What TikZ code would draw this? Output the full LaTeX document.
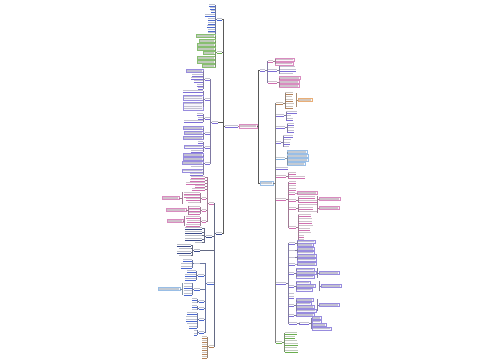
\documentclass[tikz,border=0pt]{standalone}
\usetikzlibrary{calc}
\definecolor{cblue}{HTML}{4A68D0}
\definecolor{cnavy}{HTML}{3A4A8A}
\definecolor{cgreen}{HTML}{6AAE4E}
\definecolor{cpurple}{HTML}{7E6FD6}
\definecolor{cpink}{HTML}{D06FB0}
\definecolor{cbrown}{HTML}{B5835A}
\definecolor{corange}{HTML}{E49A55}
\definecolor{clblue}{HTML}{7FAEE0}
\tikzset{
  tx/.style={inner sep=0pt, minimum height=2.6pt, path picture={
     \fill[#1!45!gray!80!black, opacity=.38] ([yshift=-0.4pt]path picture bounding box.north west) rectangle ([yshift=1.0pt]path picture bounding box.south east);
     \draw[#1, line width=0.6pt] (path picture bounding box.south west) -- (path picture bounding box.south east);}},
  bx/.style={inner sep=0pt, minimum height=3.2pt, draw=#1!80, line width=0.25pt, fill=#1!7, path picture={
     \fill[#1!40!gray!80!black, opacity=.35] ([xshift=0.8pt,yshift=-1.05pt]path picture bounding box.north west) rectangle ([xshift=-0.8pt,yshift=1.05pt]path picture bounding box.south east);}},
  bxm/.style n args={2}{inner sep=0pt, draw=#1!80, line width=0.25pt, fill=#1!7, path picture={
     \foreach \kk in {1,...,#2}{\fill[#1!40!gray!80!black, opacity=.35] ($(path picture bounding box.north west)!{(\kk-0.5)/#2}!(path picture bounding box.south west)+(0.8pt,0.5pt)$) rectangle ($(path picture bounding box.north east)!{(\kk-0.5)/#2}!(path picture bounding box.south east)+(-0.8pt,-0.5pt)$);}}},
  ln/.style={draw=#1!40!gray, line width=0.4pt},
  trunk/.style={draw=gray!70!black, line width=0.6pt}
}
% name, x, y, style, width
\newcommand\nodL[5]{\node[#4, minimum width=#5pt, anchor=east] (#1) at (#2,#3) {};}
\newcommand\nodR[5]{\node[#4, minimum width=#5pt, anchor=west] (#1) at (#2,#3) {};}
% parent, prefix, x, style, list y/w, colour
\newcommand\grpL[6]{\foreach \yy/\ww [count=\ii] in {#5}{%
  \node[#4, minimum width=\ww pt, anchor=east] (#2-\ii) at (#3,\yy) {};
  \draw[ln=#6] (#1.west) -- ++(-1.5,0) |- (#2-\ii.east);}}
\newcommand\grpR[6]{\foreach \yy/\ww [count=\ii] in {#5}{%
  \node[#4, minimum width=\ww pt, anchor=west] (#2-\ii) at (#3,\yy) {};
  \draw[ln=#6] (#1.east) -- ++(1.5,0) |- (#2-\ii.west);}}
\newcommand\conL[3]{\foreach \nd in {#2} \draw[ln=#3] (#1.west) -- ++(-1.5,0) |- (\nd.east);}
\newcommand\conR[3]{\foreach \nd in {#2} \draw[ln=#3] (#1.east) -- ++(1.5,0) |- (\nd.west);}
\newcommand\sumL[4]{\draw[ln=#4] (#1.east) -- ++(#2,0) ++(0,-#3) -- ++(0,{2*#3});}
\newcommand\sumR[4]{\draw[ln=#4] (#1.west) -- ++(-#2,0) ++(0,-#3) -- ++(0,{2*#3});}
\begin{document}
\begin{tikzpicture}[x=1pt,y=-1pt]
\useasboundingbox (0,0) rectangle (500,360);
\fill[white] (0,0) rectangle (500,360);

% root
\node[tx=cpurple, minimum width=13pt, anchor=west] (root) at (225,126) {};
\node[bx=cpink, minimum width=18pt, minimum height=3.6pt, anchor=west] (rbox) at (239,126) {};
\draw[ln=cpink] (root.east) -- (rbox.west);

% ---------- left side ----------
\nodL{LA}{222}{19}{tx=cblue}{5}
\nodL{LB}{222}{52}{tx=cgreen}{5}
\nodL{LC}{218}{122}{tx=cpurple}{6}
\nodL{LD}{222}{233}{tx=cnavy}{6}
\foreach \nd in {LA,LB,LC,LD} \draw[trunk] (root.west) -- ++(-1.5,0) |- (\nd.east);

\grpL{LA}{LAt}{215}{tx=cblue}{5/6,8/5,11/4,15/10,19/7,23/7,26/8,30/7,33/7}{cblue}
\grpL{LB}{LBb}{215}{bx=cgreen}{36/19,41/16,45/18,49/18,53/12,58/18,62/18,66/13}{cgreen}

\nodL{C1}{210}{79}{tx=cpurple}{5}
\nodL{C2}{210}{99}{tx=cpurple}{5}
\nodL{C3}{210}{118}{tx=cpurple}{5}
\nodL{C4}{210}{133}{tx=cpurple}{5}
\nodL{C5}{210}{147}{tx=cpurple}{5}
\nodL{C6}{210}{163}{tx=cpurple}{5}
\conL{LC}{C1,C2,C3,C4,C5,C6}{cpurple}
\grpL{C1}{C1b}{203}{bx=cpurple}{71/17}{cpurple}
\grpL{C1}{C1t}{203}{tx=cpurple}{75/11,78/12,81/9,85/6,88/5}{cpurple}
\grpL{C2}{C2t}{203}{tx=cpurple}{91/20}{cpurple}
\node[bxm={cpurple}{2}, minimum width=20pt, minimum height=5.6pt, anchor=east] (C2m1) at (203,97.5) {};
\node[bxm={cpurple}{3}, minimum width=20pt, minimum height=8.4pt, anchor=east] (C2m2) at (203,106) {};
\conL{C2}{C2m1,C2m2}{cpurple}
\grpL{C3}{C3t}{203}{tx=cpurple}{114/6,118/5,121/19}{cpurple}
\grpL{C4}{C4b}{203}{bx=cpurple}{128/20,133/19,138/20}{cpurple}
\grpL{C5}{C5t}{203}{tx=cpurple}{142/5,151/12}{cpurple}
\grpL{C5}{C5b}{203}{bx=cpurple}{146.5/19}{cpurple}
\grpL{C6}{C6b}{203}{bx=cpurple}{155/20,159/20,163/21,170.5/21}{cpurple}
\grpL{C6}{C6t}{203}{tx=cpurple}{166.5/12,174/13}{cpurple}

\nodL{D1}{214}{203}{tx=cpink}{5}
\nodL{D2}{212}{236}{tx=cnavy}{6}
\nodL{D3}{200}{250}{tx=cnavy}{6}
\nodL{D4}{214}{283}{tx=cblue}{7}
\nodL{D5}{214}{346}{tx=cbrown}{5}
\conL{LD}{D1,D2,D3,D4,D5}{cnavy}

\grpL{D1}{D1t}{205}{tx=cpink}{177/14,180/15,183/19,186/10,189/13}{cpink}
\nodL{D1b}{206}{198}{tx=cpink}{4}
\nodL{D1c}{206}{210}{tx=cpink}{4}
\nodL{D1d}{206}{221}{tx=cpink}{4}
\conL{D1}{D1b,D1c,D1d}{cpink}
\grpL{D1b}{D1bt}{200}{tx=cpink}{193/16,196/16,199/14,202.5/12}{cpink}
\node[bx=cpink, minimum width=17pt, anchor=east] (s1) at (179,198) {};
\sumL{s1}{3.5}{6}{cpink}
\grpL{D1c}{D1ct}{200}{tx=cpink}{207/11,210/11,213/11}{cpink}
\node[bx=cpink, minimum width=20pt, anchor=east] (s2) at (186,210) {};
\sumL{s2}{2}{4.5}{cpink}
\grpL{D1d}{D1dt}{200}{tx=cpink}{217/14,221/13,225/14}{cpink}
\node[bx=cpink, minimum width=16pt, anchor=east] (s3) at (183,221) {};
\sumL{s3}{1.5}{5}{cpink}

\grpL{D2}{D2t}{202}{tx=cnavy}{228/17,232/17,235.5/17,239/17,242.5/7}{cnavy}
\grpL{D3}{D3t}{191}{tx=cnavy}{245/14,248.5/12,252/14,255.5/12}{cnavy}

\nodL{D4a}{200}{263.5}{tx=cblue}{6}
\nodL{D4b}{204}{275}{tx=cblue}{6}
\nodL{D4c}{200}{289}{tx=cblue}{6}
\nodL{D4d}{204}{301}{tx=cblue}{5}
\nodL{D4e}{204}{308}{tx=cblue}{5}
\nodL{D4f}{204}{319}{tx=cblue}{5}
\nodL{D4g}{204}{332}{tx=cblue}{5}
\conL{D4}{D4a,D4b,D4c,D4d,D4e,D4f,D4g}{cblue}
\grpL{D4a}{D4at}{192}{tx=cblue}{260/9,263.5/11,267/11}{cblue}
\grpL{D4b}{D4bt}{196}{tx=cblue}{271/9,275/11,279/11}{cblue}
\grpL{D4c}{D4ct}{192}{tx=cblue}{283.5/8,287/8,290.5/8,294/8}{cblue}
\node[bx=clblue, minimum width=22pt, anchor=east] (s4) at (180,289) {};
\sumL{s4}{2.5}{6}{clblue}
\grpL{D4d}{D4dt}{197}{tx=cblue}{299/5,302.5/5}{cblue}
\grpL{D4e}{D4et}{197}{tx=cblue}{306/5,309.5/5}{cblue}
\grpL{D4f}{D4ft}{197}{tx=cblue}{313/10,316.5/11,320/11,323.5/10,327/8}{cblue}
\grpL{D4g}{D4gt}{197}{tx=cblue}{330.5/3,334/3}{cblue}
\grpL{D5}{D5t}{207}{tx=cbrown}{337/5,341/5,345/5,349/5,353/5,357/5}{cbrown}

% ---------- right side ----------
\node[tx=cpurple, minimum width=5pt, anchor=west] (RA) at (260,70) {};
\node[bx=clblue, minimum width=13pt, minimum height=3.6pt, anchor=west] (RB) at (260,183) {};
\foreach \nd in {RA,RB} \draw[trunk] (rbox.east) -- ++(1.5,0) |- (\nd.west);

\nodR{A1}{268}{61}{tx=cpink}{5}
\nodR{A2}{268}{70}{tx=cpurple}{9}
\nodR{A3}{268}{82}{tx=cpink}{9}
\conR{RA}{A1,A2,A3}{cpurple}
\grpR{A1}{A1b}{275}{bx=cpink}{59.5/19,63.5/18}{cpink}
\grpR{A2}{A2t}{279}{tx=cpurple}{66.5/16,70/17,73.5/14}{cpurple}
\grpR{A3}{A3b}{279}{bx=cpink}{78/21,82/20,86/20}{cpink}

\nodR{B1}{276}{103}{tx=cbrown}{7}
\nodR{B2}{276}{115}{tx=cpurple}{8}
\nodR{B3}{276}{127}{tx=cpurple}{9}
\nodR{B4}{276}{142}{tx=cpurple}{5}
\nodR{B5}{276}{158}{tx=clblue}{9}
\nodR{B6}{276}{168}{tx=cpurple}{12}
\nodR{B7}{276}{176}{tx=cpink}{10}
\nodR{B8}{276}{199}{tx=cpink}{10}
\nodR{B9}{276}{283}{tx=cpurple}{10}
\nodR{B10}{276}{342}{tx=cgreen}{6}
\conR{RB}{B1,B2,B3,B4,B5,B6,B7,B8,B9,B10}{gray}

\grpR{B1}{B1t}{285}{tx=cbrown}{93/8,96.5/7,100/8,103.5/9,107/8}{cbrown}
\node[bx=corange, minimum width=14pt, anchor=west] (s5) at (298,100) {};
\sumR{s5}{2}{7}{corange}
\grpR{B2}{B2t}{286}{tx=cpurple}{112/11,115.5/5,119/7}{cpurple}
\grpR{B3}{B3t}{287}{tx=cpurple}{124/7,127.5/7,131/7}{cpurple}
\grpR{B4}{B4t}{283}{tx=cpurple}{136/10,139.5/8,143/7,146.5/6}{cpurple}
\grpR{B5}{B5b}{287}{bx=clblue}{152/20,156/21,160/21,164/18}{clblue}
\grpR{B7}{B7t}{288}{tx=cpink}{173/8,177/17}{cpink}

\grpR{B8}{B8t}{289}{tx=cpink}{182/7,185.5/7,189/7}{cpink}
\nodR{B8a}{289}{193}{tx=cpink}{6}
\nodR{B8b}{289}{200}{tx=cpink}{7}
\nodR{B8c}{289}{208}{tx=cpink}{7}
\nodR{B8d}{289}{227}{tx=cpink}{7}
\conR{B8}{B8a,B8b,B8c,B8d}{cpink}
\grpR{B8a}{B8at}{297}{bx=cpink}{193/20}{cpink}
\grpR{B8b}{B8bt}{298}{tx=cpink}{197/17,201/19}{cpink}
\node[bx=cpink, minimum width=21pt, anchor=west] (s6) at (319,199) {};
\sumR{s6}{1.5}{3.5}{cpink}
\grpR{B8c}{B8ct}{298}{tx=cpink}{204.5/19,208/15,211.5/19}{cpink}
\node[bx=cpink, minimum width=20pt, anchor=west] (s7) at (319,208) {};
\sumR{s7}{1.5}{5}{cpink}
\grpR{B8d}{B8dt}{298}{tx=cpink}{215/13,218.5/14,222/14,225.5/15,229/12,232.5/13,236/6,239.5/6}{cpink}

\nodR{B9a}{289}{243}{tx=cpurple}{6}
\nodR{B9b}{289}{250.5}{tx=cpurple}{6}
\nodR{B9c}{289}{257.5}{tx=cpurple}{6}
\nodR{B9d}{289}{264}{tx=cpurple}{6}
\nodR{B9e}{289}{273}{tx=cpurple}{5}
\nodR{B9f}{289}{286}{tx=cpurple}{5}
\nodR{B9g}{289}{305}{tx=cpurple}{5}
\nodR{B9h}{289}{315}{tx=cpurple}{5}
\nodR{B9i}{289}{323}{tx=cpurple}{8}
\conR{B9}{B9a,B9b,B9c,B9d,B9e,B9f,B9g,B9h,B9i}{cpurple}
\grpR{B9}{B9t}{289}{tx=cpurple}{293.5/5,297/5}{cpurple}
\grpR{B9a}{B9at}{297}{bx=cpurple}{241.5/18,245/16}{cpurple}
\grpR{B9b}{B9bt}{297}{bx=cpurple}{249/17,252.5/17}{cpurple}
\grpR{B9c}{B9ct}{297}{bx=cpurple}{256/19,259.5/19}{cpurple}
\grpR{B9d}{B9dt}{297}{bx=cpurple}{264/19}{cpurple}
\grpR{B9e}{B9et}{296}{bx=cpurple}{269.5/18,273/20,276.5/18}{cpurple}
\node[bx=cpurple, minimum width=20pt, anchor=west] (s8) at (319,273) {};
\sumR{s8}{1.5}{5}{cpurple}
\grpR{B9f}{B9ft}{296}{bx=cpurple}{282.5/14,286/19,289.5/16}{cpurple}
\node[bx=cpurple, minimum width=20pt, anchor=west] (s9) at (321,286) {};
\sumR{s9}{2}{5}{cpurple}
\grpR{B9g}{B9gt}{296}{bx=cpurple}{300/17,303.5/15,307/18,310.5/20}{cpurple}
\node[bx=cpurple, minimum width=20pt, anchor=west] (s10) at (319,305) {};
\sumR{s10}{1.5}{6}{cpurple}
\grpR{B9h}{B9ht}{296}{bx=cpurple}{315/18}{cpurple}
\grpR{B9i}{B9it}{299}{tx=cpurple}{323/10}{cpurple}
\grpR{B9it-1}{B9j}{312}{bx=cpurple}{318/9,321.5/9,325/14,328.5/19}{cpurple}

\grpR{B10}{B10t}{285}{tx=cgreen}{333/12,337/10,340.5/12,344/13,347.5/12,351/13}{cgreen}
\end{tikzpicture}
\end{document}
